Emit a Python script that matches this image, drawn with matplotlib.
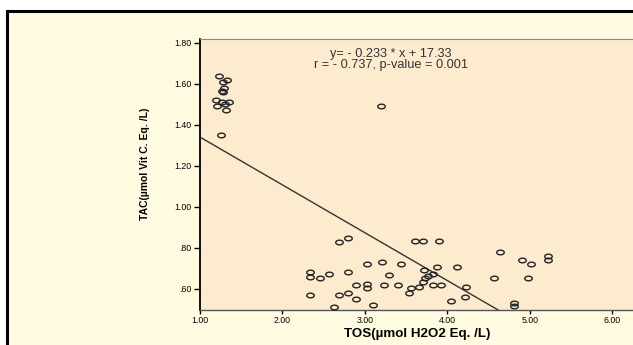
import matplotlib
matplotlib.use("Agg")
import matplotlib.pyplot as plt
import numpy as np
from matplotlib.path import Path
from matplotlib.patches import Rectangle

# ---- data ----
tos = [1.23, 1.33, 1.28, 1.29, 1.28, 1.27, 1.20, 1.21, 1.27, 1.35, 1.30, 1.31, 1.25,
       3.20,
       2.33, 2.33, 2.45, 2.56, 2.34, 2.62, 2.68, 2.79, 2.79, 2.68, 2.80, 2.895, 2.89,
       3.02, 3.02, 3.02, 3.10, 3.21, 3.23, 3.29, 3.44, 3.40, 3.53, 3.56, 3.61, 3.70,
       3.90, 3.66, 3.71, 3.73, 3.77, 3.83, 3.72, 3.88, 3.82, 3.92, 4.12, 4.04, 4.23,
       4.22, 4.56, 4.64, 4.81, 4.81, 4.90, 4.98, 5.01, 5.22, 5.22]
tac = [1.64, 1.62, 1.61, 1.58, 1.56, 1.565, 1.52, 1.49, 1.51, 1.51, 1.50, 1.47, 1.35,
       1.49,
       0.684, 0.66, 0.652, 0.672, 0.571, 0.514, 0.83, 0.85, 0.681, 0.571, 0.582, 0.619, 0.551,
       0.722, 0.623, 0.603, 0.522, 0.733, 0.619, 0.668, 0.722, 0.619, 0.579, 0.603, 0.834, 0.834,
       0.834, 0.611, 0.633, 0.652, 0.663, 0.673, 0.693, 0.709, 0.619, 0.619, 0.709, 0.542, 0.611,
       0.561, 0.652, 0.782, 0.533, 0.517, 0.743, 0.652, 0.72, 0.762, 0.743]
slope = -0.233
intercept = 1.573
x_ticks = [1, 2, 3, 4, 5, 6]
x_tick_labels = ["1.00", "2.00", "3.00", "4.00", "5.00", "6.00"]
y_ticks = [0.6, 0.8, 1.0, 1.2, 1.4, 1.6, 1.8]
y_tick_labels = [".60", ".80", "1.00", "1.20", "1.40", "1.60", "1.80"]
eq_text = "y= - 0.233 * x + 17.33\nr = - 0.737, p-value = 0.001"

plt.rcParams['font.family'] = ['Liberation Sans', 'DejaVu Sans']

W, H = 633, 345
fig = plt.figure(figsize=(W / 100, H / 100), dpi=100)
fig.patch.set_facecolor('white')

# outer frame
fig.patches.append(Rectangle((7 / W, -0.2), 1.5, 1 - 11 / H + 0.2,
                             transform=fig.transFigure, facecolor='#FFFBE1',
                             edgecolor='black', linewidth=2.2, zorder=-5))

ax = fig.add_axes([200 / W, (H - 309.5) / H, (637 - 200) / W, (309.5 - 39) / H])
ax.set_zorder(5)
ax.set_facecolor('#FDEBCF')
ax.set_xlim(1.0, 6.3)
ax.set_ylim(0.50, 1.818)

# ellipse marker
t = np.linspace(0, 2 * np.pi, 40)
verts = np.column_stack([np.cos(t), 0.62 * np.sin(t)])
ell = Path(verts, closed=True)

ax.plot(tos, tac, linestyle='none', marker=ell, markersize=5.4,
        markerfacecolor='none', markeredgecolor='#222222', markeredgewidth=1.0, zorder=3)

xl = np.array([1.0, 6.3])
ax.plot(xl, intercept + slope * xl, color='#333333', lw=1.0, zorder=2)

ax.text(3.318, 1.718, eq_text, ha='center', va='center', fontsize=9.2,
        color='#333333', linespacing=0.92)

ax.set_xticks(x_ticks)
ax.set_xticklabels(x_tick_labels)
ax.set_yticks(y_ticks)
ax.set_yticklabels(y_tick_labels)
ax.tick_params(axis='y', length=4.5, width=1.0, labelsize=6.3, pad=1.5, colors='black')
ax.tick_params(axis='x', length=3.0, width=1.0, labelsize=6.3, pad=1.5, colors='black')

for s in ['top', 'right']:
    ax.spines[s].set_color('#888888')
    ax.spines[s].set_linewidth(0.8)
ax.spines['left'].set_color('black')
ax.spines['left'].set_linewidth(1.3)
ax.spines['bottom'].set_color('#555555')
ax.spines['bottom'].set_linewidth(1.0)

fig.text(417 / W, 1 - 334 / H, "TOS(µmol H2O2 Eq. /L)", ha='center', va='center',
         fontsize=9.6, fontweight='bold')
fig.text(145 / W, 1 - 164 / H, "TAC(µmol Vit C. Eq. /L)", ha='center', va='center',
         rotation=90, fontsize=7.5, fontweight='bold')

fig.savefig("out.png", dpi=100, facecolor=fig.get_facecolor())
